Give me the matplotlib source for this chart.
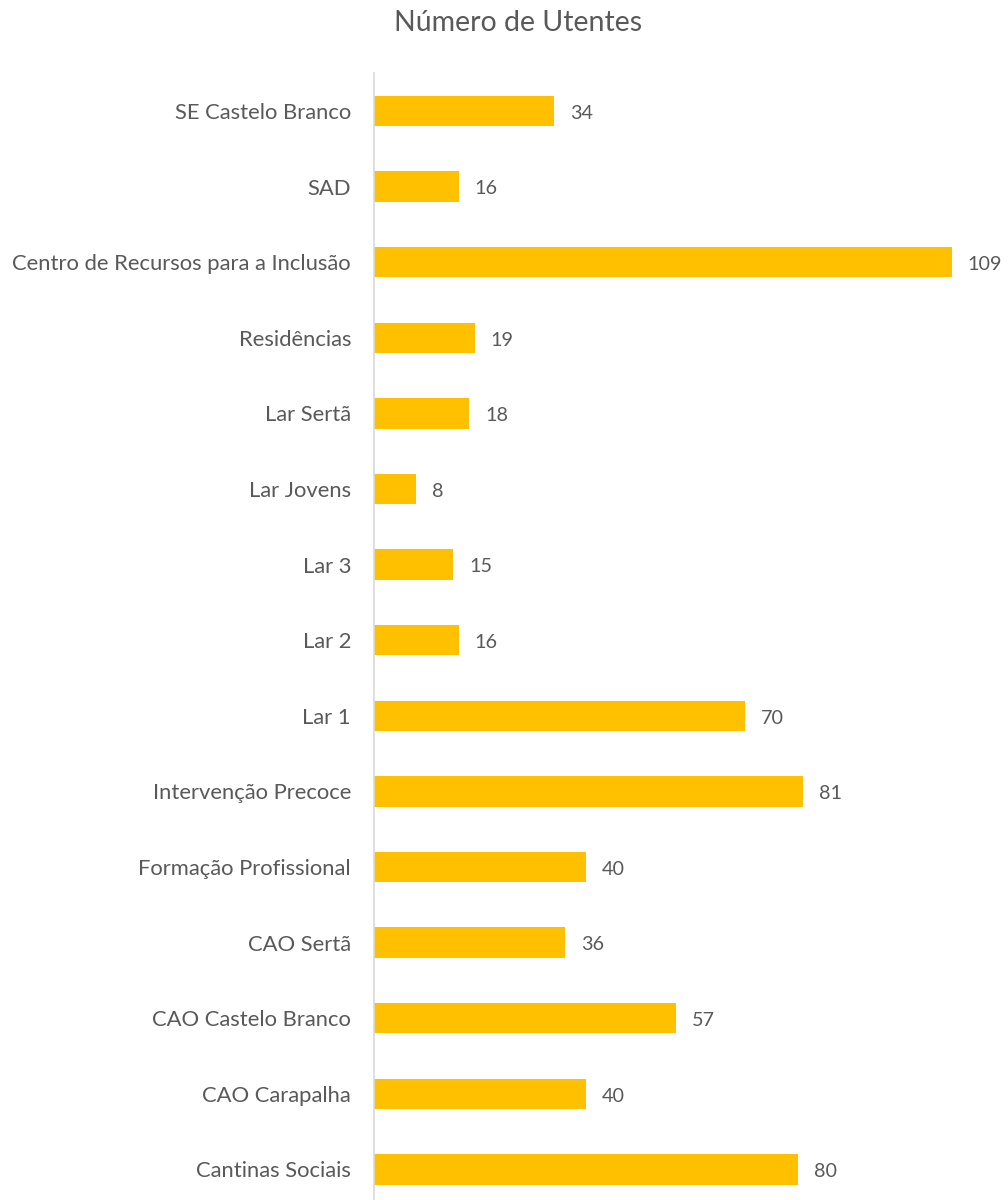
import matplotlib
matplotlib.use("Agg")
import matplotlib.pyplot as plt

# Data, listed bottom to top as in the reference
categories = ["Cantinas Sociais", "CAO Carapalha", "CAO Castelo Branco", "CAO Sertã",
              "Formação Profissional", "Intervenção Precoce", "Lar 1", "Lar 2", "Lar 3",
              "Lar Jovens", "Lar Sertã", "Residências", "Centro de Recursos para a Inclusão",
              "SAD", "SE Castelo Branco"]
values = [80, 40, 57, 36, 40, 81, 70, 16, 15, 8, 18, 19, 109, 16, 34]

BAR_GOLD = "#FFC000"
TEXT_GREY = "#595959"
AXIS_GREY = "#D9D9D9"

plt.rcParams["font.family"] = ["Lato", "DejaVu Sans"]

fig = plt.figure(figsize=(10.08, 12), dpi=100)
ax = fig.add_axes([0.371, -0.006, 0.629, 0.945])

ypos = range(len(categories))
ax.barh(ypos, values, height=0.4, color=BAR_GOLD, zorder=2)

# Value labels
for y, v in zip(ypos, values):
    ax.text(v + 3.0, y - 0.03, str(v), va="center", ha="left", fontsize=14.2, color=TEXT_GREY)

ax.set_ylim(-0.5, len(categories) - 0.5)
ax.set_xlim(0, 119.6)
ax.set_yticks(list(ypos))
ax.set_yticklabels(categories, fontsize=15.8, color=TEXT_GREY)
ax.tick_params(axis="y", length=0, pad=16.5)
ax.set_xticks([])

# Only the vertical category axis stays
ax.spines[["top", "right", "bottom"]].set_visible(False)
ax.spines["left"].set_color(AXIS_GREY)
ax.spines["left"].set_linewidth(1.2)

fig.text(0.514, 0.981, "Número de Utentes", ha="center", va="center",
         fontsize=20.5, color=TEXT_GREY)

fig.savefig("out.png", dpi=100, facecolor="white")
